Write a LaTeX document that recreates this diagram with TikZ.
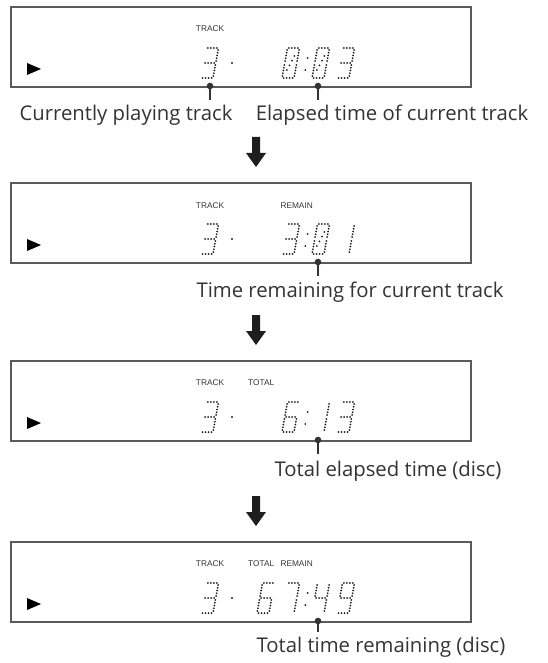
\documentclass[tikz,border=0pt]{standalone}
\usepackage{fontspec}
\setmainfont{Open Sans}
\newfontfamily\capsfont{Liberation Sans}
\definecolor{frame}{HTML}{5A5A5A}
\definecolor{ink}{HTML}{333333}
\definecolor{lcd}{HTML}{1E1E1E}
\newcommand\digX{0}
\newcommand\digY{0}
\newcommand\sg[5]{%
  \foreach \t in {0,...,#5}{%
    \pgfmathsetmacro\uu{#1+(#3-#1)*\t/#5}%
    \pgfmathsetmacro\vv{#2+(#4-#2)*\t/#5}%
    \fill[lcd] ({\digX+\uu+0.18*\vv},{\digY-\vv}) circle (1.0);}}
\newcommand\sgA{\sg{1.5}{30}{10.5}{30}{3}}
\newcommand\sgB{\sg{12}{28}{12}{17}{4}}
\newcommand\sgC{\sg{12}{13}{12}{2}{4}}
\newcommand\sgD{\sg{1.5}{0}{10.5}{0}{3}}
\newcommand\sgE{\sg{0}{13}{0}{2}{4}}
\newcommand\sgF{\sg{0}{28}{0}{17}{4}}
\newcommand\sgG{\sg{1.5}{15}{10.5}{15}{3}}
\newcommand\sgZ{\sg{3.5}{8}{8.5}{22}{3}}
\newcommand\Dg[3]{\renewcommand\digX{#1}\renewcommand\digY{#2}#3}
\newcommand\dZero{\sgA\sgB\sgC\sgD\sgE\sgF\sgZ}
\newcommand\dOne{\sgB\sgC}
\newcommand\dThree{\sgA\sgB\sgC\sgD\sgG}
\newcommand\dFour{\sgB\sgC\sgF\sgG}
\newcommand\dSix{\sgA\sgC\sgD\sgE\sgF\sgG}
\newcommand\dSeven{\sgA\sgB\sgC}
\newcommand\dNine{\sgA\sgB\sgC\sgD\sgF\sgG}
\newcommand\LcdColon[1]{%
  \fill[lcd] ({304+0.18*8},{#1-8}) circle (1.05);
  \fill[lcd] ({304+0.18*20},{#1-20}) circle (1.05);}
\newcommand\LcdSep[1]{\fill[lcd] (232,{#1-15}) circle (1.2);}
\newcommand\Play[1]{\fill[black] (27,{#1+56}) -- (41,{#1+62}) -- (27,{#1+68}) -- cycle;}
\newcommand\DownArrow[1]{\fill[lcd] (252,#1) -- (260,#1) -- (260,{#1+16}) -- (266,{#1+16}) -- (256,{#1+30}) -- (246,{#1+16}) -- (252,{#1+16}) -- cycle;}
\tikzset{
  dispbox/.style={draw=frame, line width=1.2pt, minimum width=460pt, minimum height=80pt, inner sep=0pt},
  tag/.style={font=\capsfont\fontsize{8.3}{9}\selectfont, text=ink, inner sep=0pt},
  lbl/.style={font=\fontsize{20.3}{22}\selectfont, text=ink, inner sep=0pt, anchor=base},
  pindot/.style={fill=ink},
  pinstem/.style={draw=ink, line width=2pt}
}
\begin{document}
\begin{tikzpicture}[x=1pt,y=-1pt]
\useasboundingbox (0,0) rectangle (547,663);
% boxes
\node[dispbox] (b1) at (241,47) {};
\node[dispbox] (b2) at (241,223) {};
\node[dispbox] (b3) at (241,401) {};
\node[dispbox] (b4) at (241,582) {};
% tags
\node[tag] (t1) at (210,29) {TRACK};
\node[tag] (t2) at (210,206) {TRACK};
\node[tag, anchor=east] (r2) at (313,206) {REMAIN};
\node[tag] (t3) at (210,383) {TRACK};
\node[tag, anchor=west] (o3) at (248,383) {TOTAL};
\node[tag] (t4) at (210,564) {TRACK};
\node[tag, anchor=west] (o4) at (248,564) {TOTAL};
\node[tag, anchor=east] (r4) at (313,564) {REMAIN};
% play symbols
\Play{7}\Play{183}\Play{361}\Play{542}
% box 1 : 3. 0:03
\Dg{201}{78}{\dThree}\LcdSep{78}
\Dg{282}{78}{\dZero}\LcdColon{78}\Dg{312}{78}{\dZero}\Dg{337}{78}{\dThree}
% box 2 : 3. 3:01
\Dg{201}{254}{\dThree}\LcdSep{254}
\Dg{282}{254}{\dThree}\LcdColon{254}\Dg{312}{254}{\dZero}\Dg{337}{254}{\dOne}
% box 3 : 3. 6:13
\Dg{201}{432}{\dThree}\LcdSep{432}
\Dg{282}{432}{\dSix}\LcdColon{432}\Dg{312}{432}{\dOne}\Dg{337}{432}{\dThree}
% box 4 : 3. 67:49
\Dg{201}{613}{\dThree}\LcdSep{613}
\Dg{257}{613}{\dSix}\Dg{282}{613}{\dSeven}\LcdColon{613}\Dg{312}{613}{\dFour}\Dg{337}{613}{\dNine}
% pins
\coordinate (p1a) at (210,86); \coordinate (q1a) at (210,100);
\coordinate (p1b) at (318,86); \coordinate (q1b) at (318,100);
\coordinate (p2) at (318,262); \coordinate (q2) at (318,276);
\coordinate (p3) at (318,440); \coordinate (q3) at (318,454);
\coordinate (p4) at (318,621); \coordinate (q4) at (318,632);
\foreach \p/\q in {p1a/q1a,p1b/q1b,p2/q2,p3/q3,p4/q4}{
  \draw[pinstem] (\p) -- (\q);
  \fill[pindot] (\p) circle (3.3);
}
% labels
\node[lbl] (l1) at (126,121) {Currently playing track};
\node[lbl] (l2) at (392,121) {Elapsed time of current track};
\node[lbl] (l3) at (350,297) {Time remaining for current track};
\node[lbl] (l4) at (388,476) {Total elapsed time (disc)};
\node[lbl] (l5) at (381,652) {Total time remaining (disc)};
% arrows
\DownArrow{137}\DownArrow{315}\DownArrow{496}
\end{tikzpicture}
\end{document}
